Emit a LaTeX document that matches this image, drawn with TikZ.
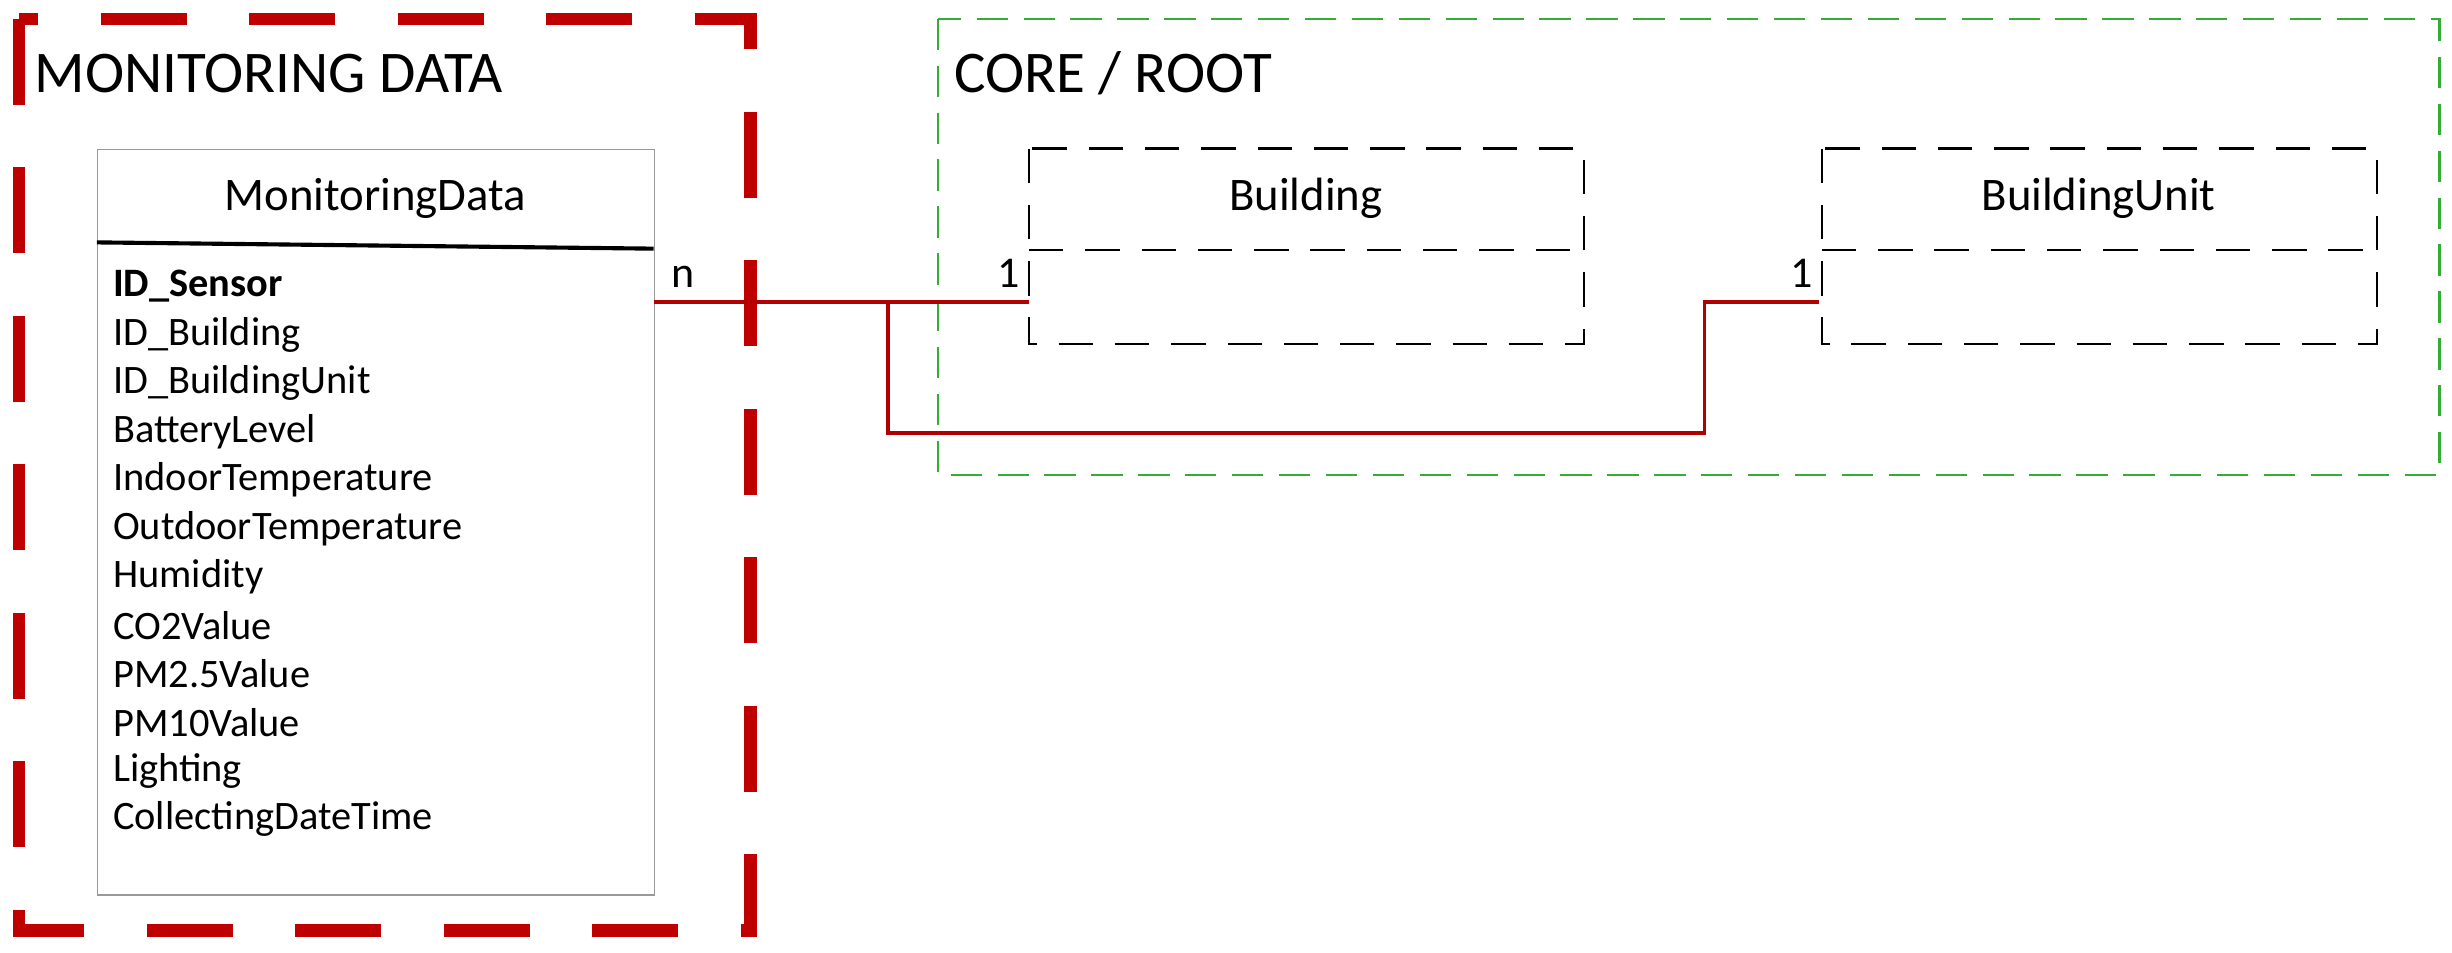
\documentclass[tikz,border=0pt]{standalone}
\usepackage{fontspec}
\setmainfont{Carlito}
\usetikzlibrary{positioning}
\begin{document}
\begin{tikzpicture}[
    x=0.02cm, y=-0.02cm,
    group/.style={font=\fontsize{21.5}{24}\selectfont, anchor=west, inner sep=0pt},
    entity/.style={draw, dash pattern=on 0.44cm off 0.28cm, line width=0.8pt},
    field/.style={font=\fontsize{14.7}{17}\selectfont, anchor=west, inner sep=0pt},
    title/.style={font=\fontsize{17}{19}\selectfont, inner sep=0pt},
    card/.style={font=\fontsize{16}{18}\selectfont, inner sep=0pt},
    link/.style={draw, red!70!black, line width=1.3pt}
]
\useasboundingbox (0,0) rectangle (1568,609);

% Groups
\draw[red!75!black, line width=4.5pt, dash pattern=on 1.1cm off 0.8cm] (12,12) rectangle (480,595);
\draw[green!60!black!80, line width=0.8pt, dash pattern=on 0.4cm off 0.2cm] (600,12) rectangle (1560,304);
\node[group] (mongroup) at (22,47) {MONITORING DATA};
\node[group] (coregroup) at (610,47) {CORE / ROOT};

% MonitoringData table
\node[draw=gray!80, fill=white, minimum width=356*0.02cm, minimum height=477*0.02cm, anchor=north west, inner sep=0pt] (mdata) at (62,95) {};
\draw[line width=1.5pt] (62,155) -- (418,159);
\node[title] (mdtitle) at (240,127) {MonitoringData};
\foreach \f [count=\i from 0] in {\textbf{ID\_Sensor}, ID\_Building, ID\_BuildingUnit, BatteryLevel, IndoorTemperature, OutdoorTemperature, Humidity, CO2Value, PM2.5Value, PM10Value, Lighting, CollectingDateTime}
    \node[field] at (72,{183+\i*31}) {\f};

% Core entities
\draw[entity] (658,95) rectangle (1013,220);
\draw[entity] (658,160) -- (1013,160);
\node[title] (building) at (835,127) {Building};
\draw[entity] (1165,95) rectangle (1520,220);
\draw[entity] (1165,160) -- (1520,160);
\node[title] (unit) at (1342,127) {BuildingUnit};

% Connectors
\coordinate (msrc) at (418,193);
\coordinate (bdst) at (658,193);
\coordinate (udst) at (1163,193);
\coordinate (split) at (568,193);
\draw[link] (msrc) -- (bdst);
\draw[link] (split) |- (1090,277) |- (udst);
\node[card] at (437,177) {n};
\node[card] at (645,175) {1};
\node[card] at (1152,175) {1};
\end{tikzpicture}
\end{document}
